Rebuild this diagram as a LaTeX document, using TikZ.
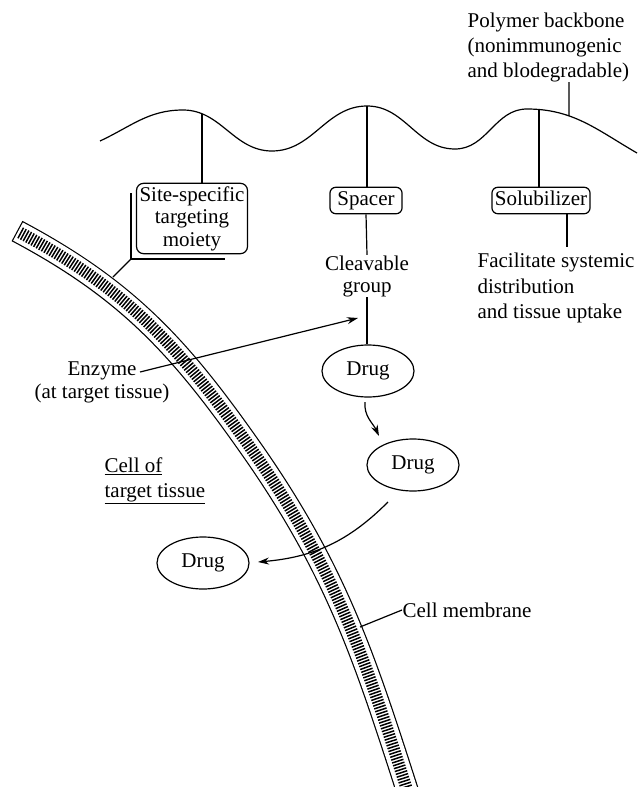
\documentclass[tikz,border=0pt]{standalone}
\usepackage{fontspec}
\setmainfont{Liberation Serif}
\usetikzlibrary{arrows.meta,intersections,calc,shapes.geometric}
\begin{document}
\begin{tikzpicture}[x=1pt,y=1pt,line width=1.2pt,
  every node/.style={font=\fontsize{21}{23}\selectfont},
  txt/.style={inner sep=0pt},
  box/.style={draw, rounded corners=6pt, inner ysep=4pt, text height=14pt, text depth=4.5pt},
  sitebox/.style={draw, rounded corners=7pt, inner xsep=3pt, inner ysep=3pt, align=center, font=\fontsize{21}{22.5}\selectfont},
  drug/.style={draw, ellipse, minimum width=92pt, minimum height=52pt, inner sep=0pt},
  arr/.style={-{Stealth[length=11pt,width=7pt]}},
  mpath/.style={insert path={(17,-231) to[out=-28,in=125] (252,-450) to[out=-55,in=108] (420,-830)}}
]
\useasboundingbox (0,0) rectangle (639,-787);
\clip (0,0) rectangle (639,-787);
\fill[white] (0,0) rectangle (639,-787);

% cell membrane
\draw[line width=23pt, mpath];
\draw[white, line width=20.6pt, shorten <=1.2pt, mpath];
\draw[line width=12pt, dash pattern=on 1.5pt off 1.5pt, shorten <=3.5pt, mpath];

% polymer backbone
\draw[name path=wave] (100,-141) to[out=25,in=180] (183,-110) to[out=0,in=180] (272,-151)
  to[out=0,in=180] (367,-106) to[out=0,in=180] (455,-149) to[out=0,in=180] (527,-109)
  to[out=0,in=150] (637,-153);
\path[name path=v1] (202,0) -- (202,-200);
\path[name path=v2] (367,0) -- (367,-200);
\path[name path=v3] (539,0) -- (539,-200);
\path[name path=v4] (569,0) -- (569,-200);
\path[name intersections={of=wave and v1, by=w1}];
\path[name intersections={of=wave and v2, by=w2}];
\path[name intersections={of=wave and v3, by=w3}];
\path[name intersections={of=wave and v4, by=w4}];

% nodes
\node[txt, align=left, anchor=west, font=\fontsize{21}{25}\selectfont] (poly) at (467,-47)
  {Polymer backbone\\(nonimmunogenic\\and blodegradable)};
\node[sitebox] (site) at (192,-218.5) {Site-specific\\targeting\\moiety};
\node[box, inner xsep=7.5pt] (spacer) at (366,-200.5) {Spacer};
\node[box, inner xsep=3pt] (sol) at (541,-200.5) {Solubilizer};
\node[txt, align=center, font=\fontsize{21}{22}\selectfont] (cleave) at (367,-276) {Cleavable\\group};
\node[txt, align=left, anchor=west, font=\fontsize{21}{25.5}\selectfont] (fac) at (477,-288)
  {Facilitate systemic\\distribution\\and tissue uptake};
\node[drug] (d1) at (368,-371) {Drug};
\node[drug] (d2) at (413,-465) {Drug};
\node[drug] (d3) at (203,-563) {Drug};
\node[txt, align=center] (enz) at (102,-382) {Enzyme\\(at target tissue)};
\node[txt, align=left, anchor=west, font=\fontsize{21}{25}\selectfont] (cell) at (104,-480.5)
  {\underline{Cell of}\\\underline{target tissue}};
\node[txt, anchor=west] (cm) at (402,-610) {Cell membrane};

% coordinates
\coordinate (pp) at (569,-82);
\coordinate (facTop) at (567,-247);
\coordinate (br1) at (131,-193);
\coordinate (br2) at (131,-259);
\coordinate (br3) at (225,-259);
\coordinate (br4) at (113,-277);
\coordinate (enzS) at (140,-372);
\coordinate (enzT) at (358,-318);
\coordinate (a1s) at (365,-402);
\coordinate (a1e) at (379,-436);
\coordinate (a2s) at (388,-502);
\coordinate (a2e) at (258,-562);
\coordinate (cmT) at (360,-627);

% connectors
\draw (w1) -- (w1 |- site.north);
\draw (w2) -- (w2 |- spacer.north);
\draw (w3) -- (w3 |- sol.north);
\draw (pp) -- (w4);
\draw (spacer.south) -- (cleave.north);
\draw (cleave.south) -- (cleave.south |- d1.north);
\draw (sol.south -| facTop) -- (facTop);
\draw (br1) -- (br2) -- (br3);
\draw (br2) -- (br4);
\draw[arr] (enzS) -- (enzT);
\draw[arr] (a1s) to[out=-95,in=115] (a1e);
\draw[arr] (a2s) to[out=-135,in=5] (a2e);
\draw (cm.west) -- (cmT);
\end{tikzpicture}
\end{document}
